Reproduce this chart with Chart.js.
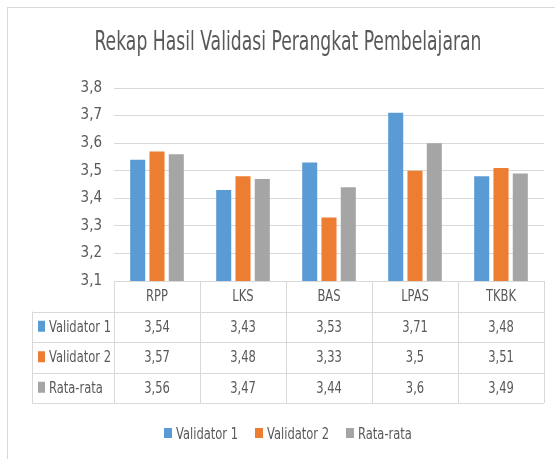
<!DOCTYPE html>
<html>
<head>
<meta charset="utf-8">
<script src="https://cdn.jsdelivr.net/npm/chart.js@4"></script>
<style>
  html, body { margin: 0; padding: 0; background: #fff; }
  #myChart { display: block; }
</style>
</head>
<body>
<canvas id="myChart" width="555" height="459"></canvas>
<script>
const categories = ['RPP', 'LKS', 'BAS', 'LPAS', 'TKBK'];
const validator1 = [3.54, 3.43, 3.53, 3.71, 3.48];
const validator2 = [3.57, 3.48, 3.33, 3.5, 3.51];
const rataRata = [3.56, 3.47, 3.44, 3.6, 3.49];
const seriesNames = ['Validator 1', 'Validator 2', 'Rata-rata'];
const colors = ['#5B9BD5', '#ED7D31', '#A5A5A5'];
const title = 'Rekap Hasil Validasi Perangkat Pembelajaran';

const FONT = "'Liberation Sans Narrow', 'DejaVu Sans Condensed', sans-serif";
const textColor = '#595959';
const lineColor = '#d9d9d9';
const SX = 0.8; // horizontal squeeze for the narrow look of the original text

Chart.defaults.font.family = FONT;
Chart.defaults.color = textColor;

function fmt(v) {
  return String(v).replace('.', ',');
}

function squeezed(ctx, s, x, y, sx) {
  ctx.save();
  ctx.translate(x, y);
  ctx.scale(sx, 1);
  ctx.fillText(s, 0, 0);
  ctx.restore();
}

// frame, title, data table and legend
const tablePlugin = {
  id: 'tablePlugin',
  afterDraw(chart) {
    const ctx = chart.ctx;
    const area = chart.chartArea;
    const xs = chart.scales.x;
    const n = categories.length;
    const colW = (area.right - area.left) / n;
    const rowH = (xs.bottom - xs.top) / 4;
    const top = area.bottom;
    const labelLeft = 32;
    const data = chart.data.datasets;

    ctx.save();
    // outer frame
    ctx.strokeStyle = lineColor;
    ctx.lineWidth = 1;
    ctx.strokeRect(7.5, 7.5, 700, 700);

    // title
    ctx.fillStyle = textColor;
    ctx.font = '27px ' + FONT;
    ctx.textAlign = 'center';
    ctx.textBaseline = 'middle';
    const tw = ctx.measureText(title).width;
    const cx = (labelLeft + area.right) / 2;
    squeezed(ctx, title, cx, 43, 387 / tw);

    // table lines
    ctx.strokeStyle = lineColor;
    ctx.lineWidth = 1;
    ctx.beginPath();
    ctx.moveTo(area.left, Math.round(top) + 0.5);
    ctx.lineTo(area.right, Math.round(top) + 0.5);
    for (let r = 1; r <= 4; r++) {
      const y = Math.round(top + r * rowH) + 0.5;
      ctx.moveTo(labelLeft, y);
      ctx.lineTo(area.right, y);
    }
    for (let c = 0; c <= n; c++) {
      const x = c === n
        ? Math.round(xs.getPixelForValue(n - 1) + colW / 2) + 0.5
        : Math.round(xs.getPixelForValue(c) - colW / 2) + 0.5;
      ctx.moveTo(x, top);
      ctx.lineTo(x, top + 4 * rowH);
    }
    ctx.moveTo(labelLeft + 0.5, top + rowH);
    ctx.lineTo(labelLeft + 0.5, top + 4 * rowH);
    ctx.stroke();

    // table text
    ctx.font = '16px ' + FONT;
    ctx.fillStyle = textColor;
    ctx.textAlign = 'center';
    ctx.textBaseline = 'middle';
    for (let i = 0; i < n; i++) {
      const x = xs.getPixelForValue(i);
      squeezed(ctx, categories[i], x, top + rowH / 2 + 1, SX);
      data.forEach((ds, d) => {
        squeezed(ctx, fmt(ds.data[i]), x, top + rowH * (d + 1.5) + 1, SX);
      });
    }
    ctx.textAlign = 'left';
    data.forEach((ds, d) => {
      const y = top + rowH * (d + 1.5);
      ctx.fillStyle = ds.backgroundColor;
      ctx.fillRect(38, y - 6, 7, 11);
      ctx.fillStyle = textColor;
      squeezed(ctx, ds.label, 49, y + 1, SX);
    });

    // legend
    const gap = 17;
    const widths = data.map(ds => ctx.measureText(ds.label).width * SX);
    let total = gap * (data.length - 1);
    widths.forEach(w => total += 12 + w);
    let lx = cx - total / 2;
    const ly = 434;
    data.forEach((ds, d) => {
      ctx.fillStyle = ds.backgroundColor;
      ctx.fillRect(Math.round(lx), ly - 6, 8, 10);
      ctx.fillStyle = textColor;
      squeezed(ctx, ds.label, lx + 12, ly + 1, SX);
      lx += 12 + widths[d] + gap;
    });
    ctx.restore();
  }
};

const ctx = document.getElementById('myChart').getContext('2d');
const myChart = new Chart(ctx, {
  type: 'bar',
  data: {
    labels: categories,
    datasets: [
      { label: seriesNames[0], data: validator1, backgroundColor: colors[0] },
      { label: seriesNames[1], data: validator2, backgroundColor: colors[1] },
      { label: seriesNames[2], data: rataRata, backgroundColor: colors[2] }
    ]
  },
  options: {
    responsive: false,
    animation: false,
    devicePixelRatio: 1,
    categoryPercentage: 0.673,
    barPercentage: 0.78,
    layout: { padding: { left: 0, right: 11, top: 88, bottom: 56 } },
    plugins: {
      legend: { display: false },
      title: { display: false },
      tooltip: { enabled: false }
    },
    scales: {
      x: {
        ticks: { display: false },
        grid: { display: false },
        border: { display: false },
        afterFit(scale) { scale.height = 122; }
      },
      y: {
        min: 3.1,
        max: 3.8,
        ticks: {
          stepSize: 0.1,
          padding: 12,
          font: { size: 15 },
          color: textColor,
          callback: v => fmt(v.toFixed(1))
        },
        grid: { color: lineColor, lineWidth: 1, drawTicks: false },
        border: { display: false },
        afterFit(scale) { scale.width = 114; }
      }
    }
  },
  plugins: [tablePlugin]
});
</script>
</body>
</html>
